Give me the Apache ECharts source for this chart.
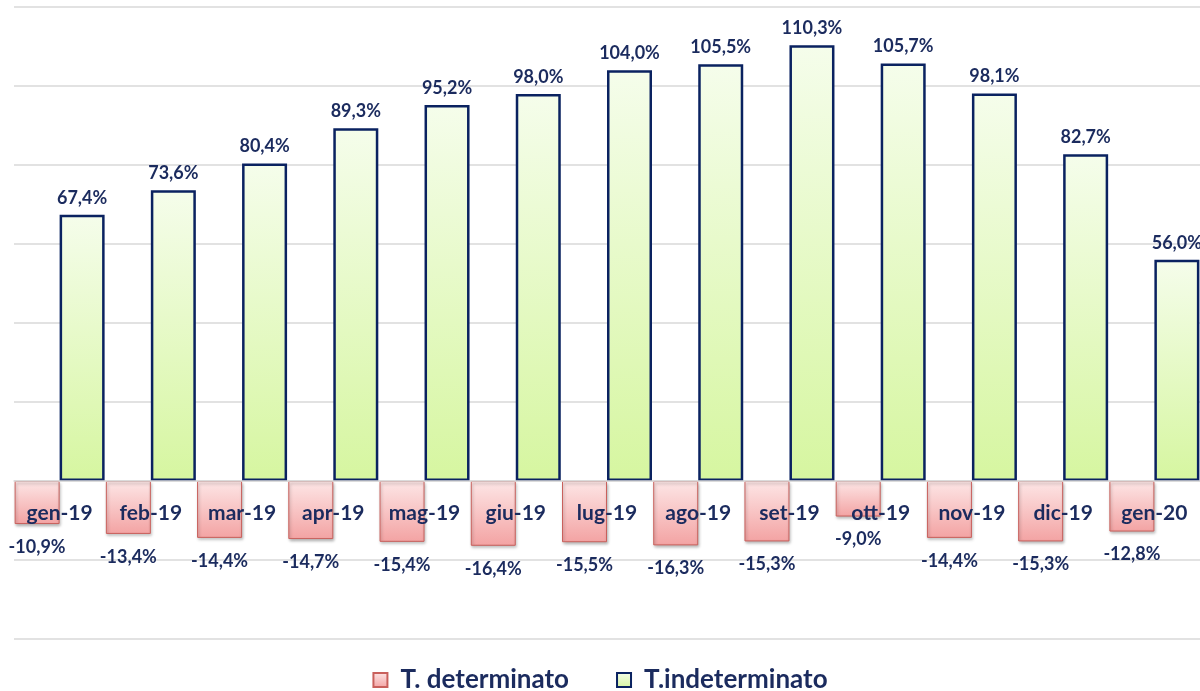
<!DOCTYPE html>
<html>
<head>
<meta charset="utf-8">
<script src="https://cdn.jsdelivr.net/npm/echarts@6/dist/echarts.min.js"></script>
<style>
    html, body { margin: 0; padding: 0; background: #fff; }
    #main { width: 1200px; height: 691px; }
</style>
</head>
<body>
<div id="main"></div>
<script>
// dati
var mesi = ['gen-19', 'feb-19', 'mar-19', 'apr-19', 'mag-19', 'giu-19', 'lug-19', 'ago-19', 'set-19', 'ott-19', 'nov-19', 'dic-19', 'gen-20']
var determinato = [-10.9, -13.4, -14.4, -14.7, -15.4, -16.4, -15.5, -16.3, -15.3, -9.0, -14.4, -15.3, -12.8]
var indeterminato = [67.4, 73.6, 80.4, 89.3, 95.2, 98.0, 104.0, 105.5, 110.3, 105.7, 98.1, 82.7, 56.0]

var navy = '#1b2b5e'
var font = 'Lato'

function fmt(p) {
    return p.value.toFixed(1).replace('.', ',') + '%'
}

var chart = echarts.init(document.getElementById('main'))

var option = {
    animation: false,
    legend: {
        bottom: -7,
        left: 'center',
        icon: 'rect',
        itemWidth: 14,
        itemHeight: 14,
        itemGap: 47,
        textStyle: { color: navy, fontFamily: font, fontWeight: 'bold', fontSize: 26, padding: [0, 0, 0, 8] },
        data: ['T. determinato', 'T.indeterminato']
    },
    grid: {
        left: 14,
        top: 7,
        width: 1196,
        height: 632
    },
    xAxis: {
        type: 'category',
        data: mesi,
        z: 5,
        offset: -158,
        axisLine: { onZero: false, lineStyle: { color: '#d9d9d9', width: 1.5 } },
        axisTick: { show: false },
        axisLabel: {
            interval: 0,
            margin: 22,
            color: navy,
            fontFamily: font,
            fontWeight: 'bold',
            fontSize: 21
        }
    },
    yAxis: {
        type: 'value',
        min: -40,
        max: 120,
        interval: 20,
        axisLabel: { show: false },
        axisLine: { show: false },
        axisTick: { show: false },
        splitLine: { lineStyle: { color: '#d9d9d9', width: 1.5 } }
    },
    series: [
        {
            name: 'T. determinato',
            type: 'bar',
            barWidth: 45,
            barGap: 0,
            data: determinato,
            itemStyle: {
                color: new echarts.graphic.LinearGradient(0, 0, 0, 1, [
                    { offset: 0, color: '#fde6e6' },
                    { offset: 1, color: '#f3a3a3' }
                ]),
                borderColor: '#c9605c',
                borderWidth: 1,
                shadowBlur: 3,
                shadowOffsetX: 1,
                shadowOffsetY: 2,
                shadowColor: 'rgba(0,0,0,0.3)'
            },
            label: {
                show: true,
                position: 'bottom',
                distance: 14,
                formatter: fmt,
                color: navy,
                fontFamily: font,
                fontWeight: 'bold',
                fontSize: 18
            }
        },
        {
            name: 'T.indeterminato',
            type: 'bar',
            barWidth: 45,
            barGap: 0,
            data: indeterminato,
            itemStyle: {
                color: new echarts.graphic.LinearGradient(0, 0, 0, 1, [
                    { offset: 0, color: '#f5fdeb' },
                    { offset: 1, color: '#d6f6a0' }
                ]),
                borderColor: '#0a2260',
                borderWidth: 2.5
            },
            label: {
                show: true,
                position: 'top',
                distance: 8,
                formatter: fmt,
                color: navy,
                fontFamily: font,
                fontWeight: 'bold',
                fontSize: 18
            }
        }
    ]
}

chart.setOption(option)
</script>
</body>
</html>
